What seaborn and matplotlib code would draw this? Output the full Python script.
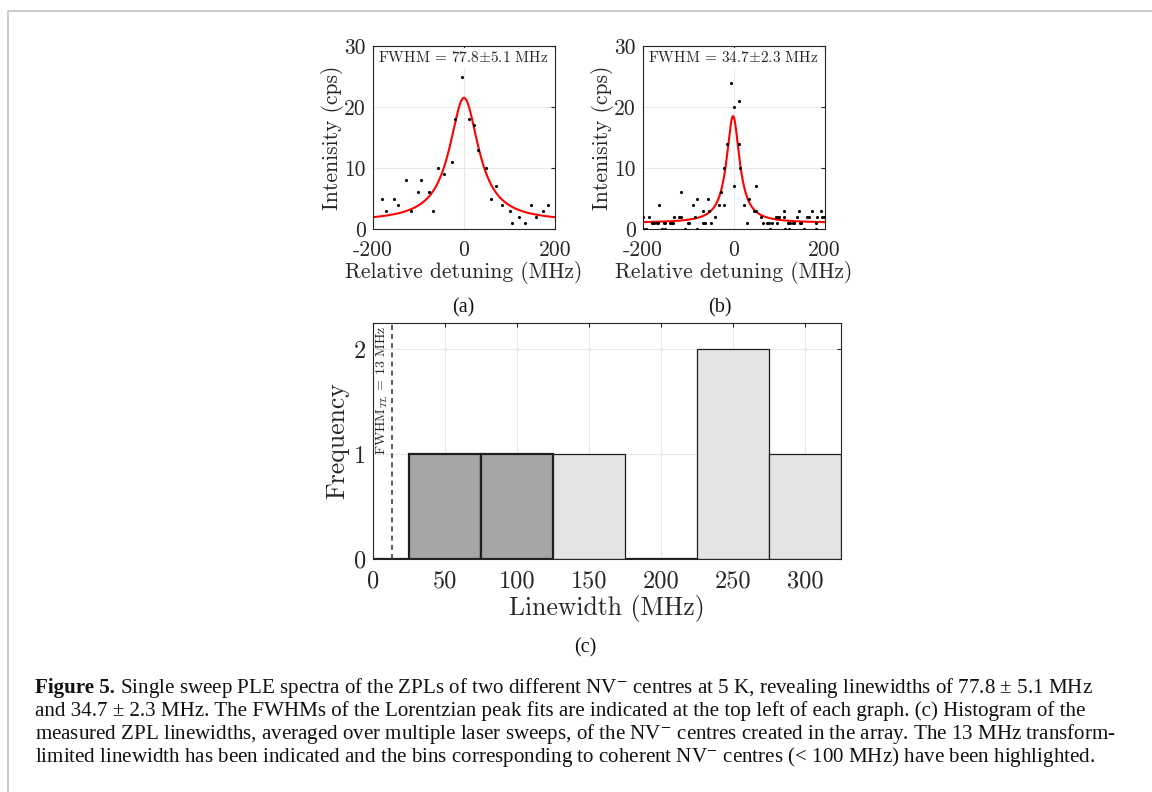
import matplotlib
matplotlib.use("Agg")
import matplotlib.pyplot as plt
from matplotlib.lines import Line2D
import numpy as np
import seaborn as sns

# Panel (a): puntos medidos (MHz, cps)
det_a = [-181, -171, -153, -144, -128, -116, -102, -94, -77, -69, -57, -43, -26, -20, -4,
         10, 23, 30, 48, 59, 71, 83, 100, 105, 121, 134, 148, 158, 174, 184]
int_a = [5, 3, 5, 4, 8, 3, 6, 8, 6, 3, 10, 9, 11, 18, 25,
         18, 17, 13, 10, 5, 7, 4, 3, 1, 2, 1, 4, 2, 3, 4]
# parametros del ajuste Lorentziano (a)
fwhm_a, amp_a, off_a, x0_a = 77.8, 20.3, 1.2, 0.0

# Panel (b): puntos medidos
det_b = [-200, -198, -193, -185, -180, -175, -168, -166, -163, -157, -153, -150, -150,
         -140, -136, -133, -130, -119, -116, -115, -107, -100, -97, -90, -84, -80, -80,
         -68, -67, -63, -57, -53, -50, -40, -31, -27, -20, -20, -14, -6, 1, 2, 11, 13,
         15, 22, 29, 33, 46, 49, 50, 60, 64, 74, 79, 81, 84, 94, 96, 98, 101, 110, 112,
         113, 119, 123, 124, 130, 133, 140, 145, 146, 148, 156, 161, 166, 173, 181, 181,
         183, 193, 194, 199]
int_b = [2, 0, 0, 2, 1, 1, 1, 1, 4, 0, 1, 1, 0,
         1, 1, 1, 2, 2, 6, 2, 0, 1, 1, 4, 2, 5, 0,
         3, 1, 1, 5, 3, 1, 2, 4, 6, 4, 10, 14, 24, 20, 7, 14, 21,
         10, 4, 1, 5, 3, 7, 3, 2, 1, 1, 1, 0, 1, 2, 1, 2, 2, 3, 2,
         0, 1, 0, 1, 1, 1, 2, 3, 1, 1, 0, 2, 2, 3, 1, 0,
         2, 3, 2, 2]
fwhm_b, amp_b, off_b, x0_b = 34.7, 17.5, 1.0, -1.0

# Panel (c): histograma de anchos de linea
bin_centers = [0, 50, 100, 150, 200, 250, 300]
bin_counts = [0, 1, 1, 1, 0, 2, 1]
bin_edges = [-25, 25, 75, 125, 175, 225, 275, 325]
highlight = [False, True, True, False, False, False, False]
fwhm_tl = 13

caption = [
    " Single sweep PLE spectra of the ZPLs of two different NV$^{-}$ centres at 5 K, revealing linewidths of 77.8 \u00b1 5.1 MHz",
    "and 34.7 \u00b1 2.3 MHz. The FWHMs of the Lorentzian peak fits are indicated at the top left of each graph. (c) Histogram of the",
    "measured ZPL linewidths, averaged over multiple laser sweeps, of the NV$^{-}$ centres created in the array. The 13 MHz transform-",
    "limited linewidth has been indicated and the bins corresponding to coherent NV$^{-}$ centres (< 100 MHz) have been highlighted.",
]

sns.set_theme(style="whitegrid")
ink = "#262626"
plt.rcParams.update({
    "font.family": "cmr10",
    "mathtext.fontset": "cm",
    "axes.formatter.use_mathtext": True,
    "axes.edgecolor": ink,
    "axes.linewidth": 0.8,
    "axes.labelcolor": ink,
    "xtick.color": ink,
    "ytick.color": ink,
    "xtick.direction": "in",
    "ytick.direction": "in",
    "xtick.major.size": 3,
    "ytick.major.size": 3,
    "xtick.major.width": 0.8,
    "ytick.major.width": 0.8,
    "xtick.top": True,
    "ytick.right": True,
    "grid.color": "#e8e8e8",
    "grid.linewidth": 0.8,
    "axes.axisbelow": True,
})

fig = plt.figure(figsize=(11.52, 7.92), dpi=100)


def lorentz(x, fwhm, amp, off, x0):
    g = fwhm / 2
    return off + amp * g**2 / ((x - x0)**2 + g**2)


def panel_spectro(ax, det, inten, fwhm, amp, off, x0, etiqueta):
    xs = np.linspace(-200, 200, 801)
    sns.lineplot(x=xs, y=lorentz(xs, fwhm, amp, off, x0), ax=ax, color="red", lw=1.5, zorder=2)
    sns.scatterplot(x=det, y=inten, ax=ax, color="black", s=5, linewidth=0, zorder=3)
    ax.set_xlim(-200, 200)
    ax.set_ylim(0, 30)
    ax.set_xticks([-200, 0, 200])
    ax.set_xticklabels(["-200", "0", "200"], fontsize=15.5)
    ax.set_yticks([0, 10, 20, 30])
    ax.set_yticklabels(["0", "10", "20", "30"], fontsize=15.5)
    ax.set_xlabel("Relative detuning (MHz)", fontsize=15.5, labelpad=1)
    ax.set_ylabel("Intenisity (cps)", fontsize=15.5, labelpad=0)
    ax.tick_params(axis="x", pad=8)
    ax.tick_params(axis="y", pad=5)
    ax.grid(True)
    ax.text(0.03, 0.935, etiqueta, transform=ax.transAxes, fontsize=11, va="center", ha="left",
            color=ink, bbox=dict(facecolor="white", edgecolor="none", pad=1.5), zorder=4)
    for s in ax.spines.values():
        s.set_visible(True)


ax_a = fig.add_axes([373 / 1152, 1 - 229 / 792, 182 / 1152, 183 / 792])
panel_spectro(ax_a, det_a, int_a, fwhm_a, amp_a, off_a, x0_a, "FWHM = 77.8$\\pm$5.1 MHz")
ax_b = fig.add_axes([642.5 / 1152, 1 - 229 / 792, 182 / 1152, 183 / 792])
panel_spectro(ax_b, det_b, int_b, fwhm_b, amp_b, off_b, x0_b, "FWHM = 34.7$\\pm$2.3 MHz")

# Histograma (c)
ax_c = fig.add_axes([373 / 1152, 1 - 559 / 792, 468 / 1152, 236 / 792])
sns.histplot(x=bin_centers, weights=bin_counts, bins=bin_edges, ax=ax_c, zorder=2)
for p, h, n in zip(ax_c.patches, highlight, bin_counts):
    if h:
        p.set_facecolor("#a6a6a6")
        p.set_edgecolor("#1f1f1f")
        p.set_linewidth(1.6)
    else:
        p.set_facecolor("#e4e4e4")
        p.set_edgecolor("#1f1f1f")
        p.set_linewidth(0.9 if n > 0 else 1.6)
    p.set_alpha(1)
ax_c.axvline(fwhm_tl, color="#404040", ls=(0, (3, 2.5)), lw=1.2, zorder=3)
ax_c.text(fwhm_tl - 1.5, 2.23, "FWHM$_{TL}$ = 13 MHz", rotation=90, ha="right", va="top",
          fontsize=10, color=ink)
ax_c.set_xlim(0, 325)
ax_c.set_ylim(0, 2.25)
ax_c.set_xticks([0, 50, 100, 150, 200, 250, 300])
ax_c.set_xticklabels(["0", "50", "100", "150", "200", "250", "300"], fontsize=17.5)
ax_c.set_yticks([0, 1, 2])
ax_c.set_yticklabels(["0", "1", "2"], fontsize=17.5)
ax_c.set_xlabel("Linewidth (MHz)", fontsize=18.5, labelpad=2)
ax_c.set_ylabel("Frequency", fontsize=18.5, labelpad=3)
ax_c.tick_params(axis="x", pad=8)
ax_c.tick_params(axis="y", pad=5)
ax_c.grid(True)
for s in ax_c.spines.values():
    s.set_visible(True)

# Etiquetas de subfiguras
sub_font = dict(family="Liberation Serif", fontsize=14.5, color="#111111", ha="center", va="center")
fig.text(463 / 1152, 1 - 308 / 792, "(a)", **sub_font)
fig.text(720 / 1152, 1 - 308 / 792, "(b)", **sub_font)
fig.text(585 / 1152, 1 - 648 / 792, "(c)", **sub_font)

# Marco gris de la figura
fig.add_artist(Line2D([8 / 1152, 8 / 1152, 1], [0, 1 - 11 / 792, 1 - 11 / 792],
                      transform=fig.transFigure, color="#c4c4c4", lw=1.2))

# Pie de figura
cap_font = dict(family="Liberation Serif", fontsize=15.1, color="#111111", va="center", ha="left")
ys = [688, 711, 734, 757]
t0 = fig.text(35 / 1152, 1 - ys[0] / 792, "Figure 5.", fontweight="bold", **cap_font)
fig.canvas.draw()
bb = t0.get_window_extent(fig.canvas.get_renderer())
for i, linea in enumerate(caption):
    x = (bb.x1 / 1152) if i == 0 else 35 / 1152
    t = fig.text(x, 1 - ys[i] / 792, linea, **cap_font)
    t.set_math_fontfamily("stix")

fig.savefig("out.png", dpi=100)
